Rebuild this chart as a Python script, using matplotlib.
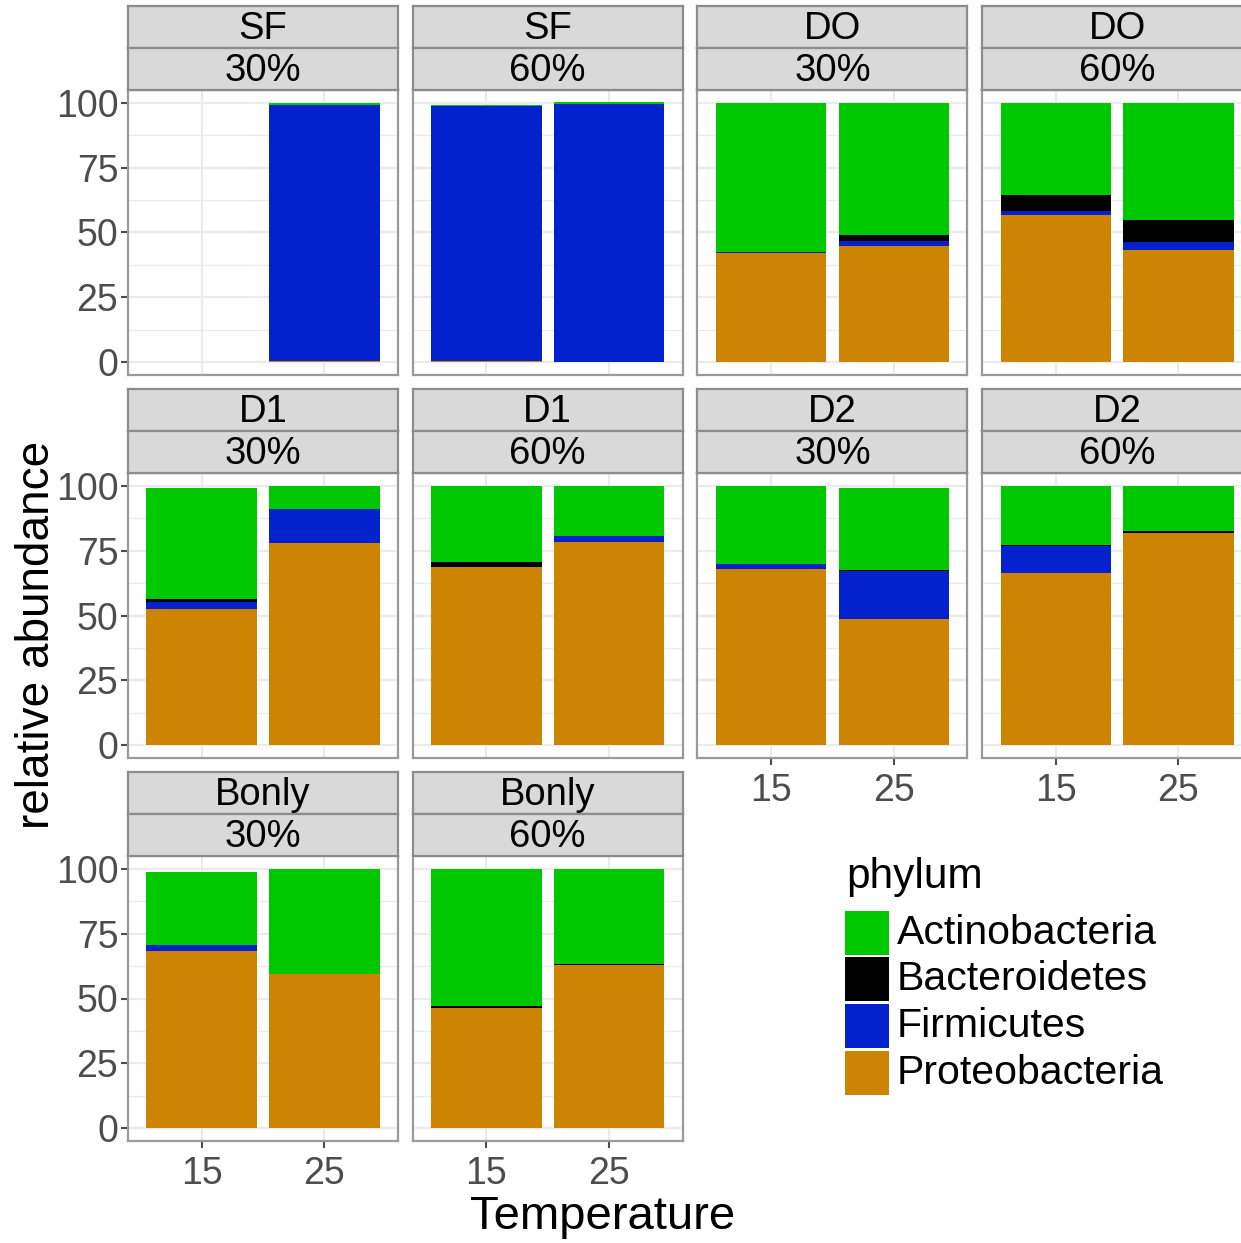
import numpy as np
import matplotlib
matplotlib.use("Agg")
import matplotlib.pyplot as plt
from matplotlib.patches import Rectangle

plt.rcParams['font.family'] = ['Liberation Sans', 'DejaVu Sans']

# ---- data ----
sites = ["SF", "SF", "DO", "DO", "D1", "D1", "D2", "D2", "Bonly", "Bonly"]
moisture = ["30%", "60%", "30%", "60%", "30%", "60%", "30%", "60%", "30%", "60%"]
temps = ["15", "25"]
phyla = ["Actinobacteria", "Bacteroidetes", "Firmicutes", "Proteobacteria"]
colors = ["#00C800", "#000000", "#0322CD", "#CC8402"]

nan = np.nan
actino = [[nan, 0.6], [0.6, 0.5], [57.5, 51.0], [35.4, 45.2], [43.1, 8.8],
          [29.4, 19.5], [30.1, 31.8], [22.9, 17.4], [28.1, 40.5], [53.0, 36.6]]
bactero = [[nan, 0.0], [0.0, 0.0], [0.0, 2.4], [6.4, 8.6], [0.9, 0.0],
           [1.7, 0.0], [0.0, 0.5], [0.4, 0.6], [0.0, 0.0], [0.7, 0.6]]
firmic = [[nan, 99.1], [98.4, 99.5], [0.5, 1.8], [1.5, 2.9], [2.7, 13.4],
          [0.3, 2.3], [1.8, 18.5], [10.3, 0.0], [2.2, 0.0], [0.0, 0.0]]
proteo = [[nan, 0.3], [0.3, 0.2], [42.0, 44.8], [56.7, 43.3], [52.6, 77.8],
          [68.6, 78.2], [68.1, 48.5], [66.4, 82.0], [68.4, 59.5], [46.3, 62.8]]
yticks = [0, 25, 50, 75, 100]

W, H = 1241, 1243
fig = plt.figure(figsize=(W / 100, H / 100), dpi=100)

left0, stepx, pw = 128, 284.7, 270
top0, stepy, ph = 90, 383, 285
strip_h = 42
ncol = 4
n = len(sites)

def fr(x, y, w, h):
    return [x / W, 1 - (y + h) / H, w / W, h / H]

grid_col = "#EBEBEB"
border_col = "#9A9A9A"
tick_col = "#4D4D4D"

for i in range(n):
    r, c = divmod(i, ncol)
    x0 = left0 + c * stepx
    y0 = top0 + r * stepy
    ax = fig.add_axes(fr(x0, y0, pw, ph))
    ax.set_facecolor("white")
    ax.set_xlim(0.4, 2.6)
    ax.set_ylim(-5, 105)
    for yv in yticks:
        ax.axhline(yv, color=grid_col, lw=1.6, zorder=0)
    for yv in [12.5, 37.5, 62.5, 87.5]:
        ax.axhline(yv, color=grid_col, lw=0.9, zorder=0)
    for xv in [1, 2]:
        ax.axvline(xv, color=grid_col, lw=1.6, zorder=0)
    series = [proteo, firmic, bactero, actino]
    cols = [colors[3], colors[2], colors[1], colors[0]]
    xs = np.array([1, 2])
    bottom = np.zeros(2)
    for s, col in zip(series, cols):
        vals = np.array(s[i], dtype=float)
        mask = ~np.isnan(vals)
        ax.bar(xs[mask], vals[mask], bottom=bottom[mask], width=0.9,
               color=col, edgecolor="none", zorder=2)
        bottom = bottom + np.nan_to_num(vals)
    for sp in ax.spines.values():
        sp.set_color(border_col)
        sp.set_linewidth(1.6)
    ax.set_xticks([1, 2])
    ax.set_yticks(yticks)
    show_x = (i + ncol >= n)
    show_y = (c == 0)
    ax.tick_params(axis="both", colors=tick_col, labelcolor=tick_col,
                   length=5, width=1.5, labelsize=27)
    ax.tick_params(axis="x", pad=6)
    ax.tick_params(axis="y", pad=2)
    if show_x:
        ax.set_xticklabels(temps)
    else:
        ax.tick_params(axis="x", length=0, labelbottom=False)
    if show_y:
        ax.set_yticklabels([str(v) for v in yticks])
    else:
        ax.tick_params(axis="y", length=0, labelleft=False)
    # strips
    for k, label in enumerate([sites[i], moisture[i]]):
        sy = y0 - strip_h * (2 - k)
        sax = fig.add_axes(fr(x0, sy, pw, strip_h))
        sax.set_facecolor("#D9D9D9")
        sax.set_xticks([])
        sax.set_yticks([])
        for sp in sax.spines.values():
            sp.set_color("#8C8C8C")
            sp.set_linewidth(1.6)
        sax.text(0.5, 0.46, label, ha="center", va="center", fontsize=27.5,
                 color="black", transform=sax.transAxes)

# axis titles
fig.text(37 / W, 1 - 635 / H, "relative abundance", rotation=90, ha="center",
         va="center", fontsize=33)
fig.text(603 / W, 1 - 1217 / H, "Temperature", ha="center", va="center",
         fontsize=34)

# legend
fig.text(846 / W, 1 - 877 / H, "phylum", ha="left", va="center", fontsize=30.5)
key_tops = [911, 957, 1004, 1051]
for k, (lab, col) in enumerate(zip(phyla, colors)):
    kt = key_tops[k]
    fig.patches.append(Rectangle((845 / W, 1 - (kt + 44) / H), 44 / W, 44 / H,
                                 transform=fig.transFigure, facecolor=col,
                                 edgecolor="none"))
    fig.text(897 / W, 1 - (kt + 22) / H, lab, ha="left", va="center",
             fontsize=29.5)

fig.savefig("out.png", dpi=100)
